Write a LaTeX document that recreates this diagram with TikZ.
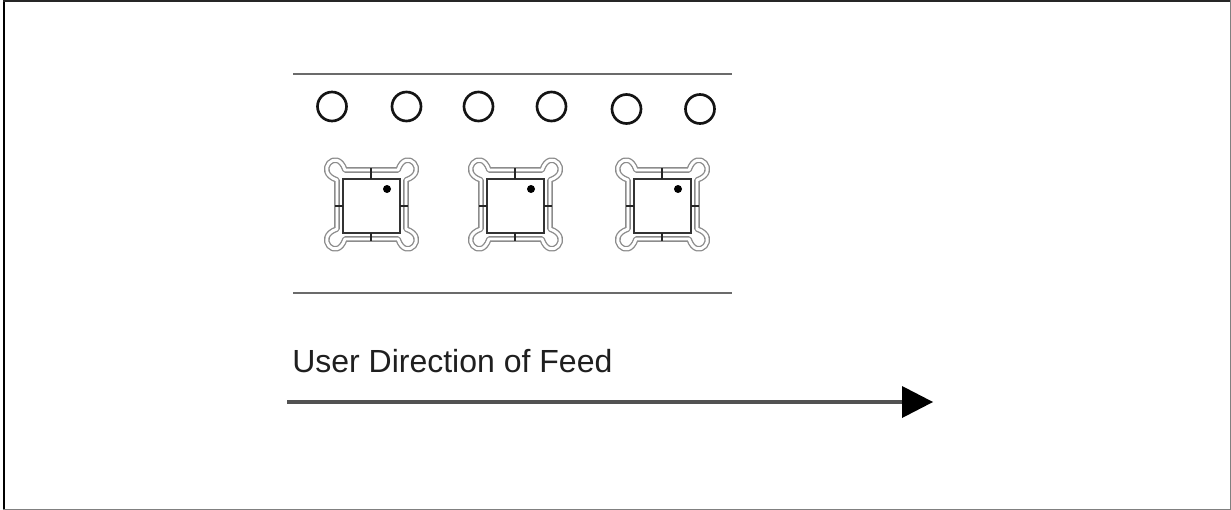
\documentclass[tikz,border=0pt]{standalone}
\usepackage{fontspec}
\setmainfont{Liberation Sans}
\usetikzlibrary{arrows.meta}
\tikzset{
  rail/.style={draw=black!58, line width=1.5pt},
  hole/.style={circle, draw=black!92, line width=2pt, minimum size=21.75pt, inner sep=0pt},
  framedbl/.style={draw=black!45, double=white, double distance=2.2pt, line width=1pt, line join=round},
  body/.style={draw=black!80, line width=1.5pt},
  tick/.style={draw=black!85, line width=1.2pt},
  feed/.style={draw=black!68, line width=2.4pt},
  ledpkg/.pic={
    \draw[framedbl] (-27,-36) -- (26,-36)
      .. controls (34,-60) and (58,-34) .. (34,-26) -- (34,23)
      .. controls (58,31) and (34,57) .. (26,33) -- (-27,33)
      .. controls (-35,57) and (-59,31) .. (-35,23) -- (-35,-26)
      .. controls (-59,-34) and (-35,-60) .. (-27,-36) -- cycle;
    \draw[body] (-29,-27) rectangle (28,27);
    \draw[tick] (-1,-38) -- (-1,-27);
    \draw[tick] (-1,27) -- (-1,35);
    \draw[tick] (-37,0) -- (-29,0);
    \draw[tick] (28,0) -- (36,0);
    \fill[black] (15,-17) circle[radius=3pt];
  }
}
\begin{document}
\begin{tikzpicture}[x=0.75pt,y=-0.75pt]
  \useasboundingbox (0,0) rectangle (1231,510);
  % frame border
  \draw[black, line width=1.5pt] (3.7,0) -- (3.7,510);
  \draw[black!85, line width=1.2pt] (3,0.8) -- (1231,0.8);
  \draw[black!50, line width=0.8pt] (1230.3,0) -- (1230.3,510);
  \draw[black!50, line width=0.8pt] (3,509.3) -- (1231,509.3);
  % rails
  \coordinate (t1) at (293,74);
  \coordinate (t2) at (732,74);
  \coordinate (b1) at (293,293);
  \coordinate (b2) at (732,293);
  \draw[rail] (t1) -- (t2);
  \draw[rail] (b1) -- (b2);
  % sprocket holes
  \node[hole] (h1) at (332,106.5) {};
  \node[hole] (h2) at (406.5,106.5) {};
  \node[hole] (h3) at (478.5,106.5) {};
  \node[hole] (h4) at (551.5,106.5) {};
  \node[hole] (h5) at (626.5,109) {};
  \node[hole] (h6) at (700,109) {};
  % packages
  \pic at (372,206) {ledpkg};
  \pic at (516,206) {ledpkg};
  \pic at (663,206) {ledpkg};
  % label and arrow
  \node[anchor=base west, inner sep=0pt, text=black!88, font=\fontsize{24}{28}\selectfont] (lbl) at (292,372) {User Direction of Feed};
  \coordinate (a1) at (287,402);
  \coordinate (a2) at (933,402);
  \draw[feed, -{Triangle[length=23.25pt, width=24pt, line width=0pt, color=black, fill=black]}] (a1) -- (a2);
\end{tikzpicture}
\end{document}
